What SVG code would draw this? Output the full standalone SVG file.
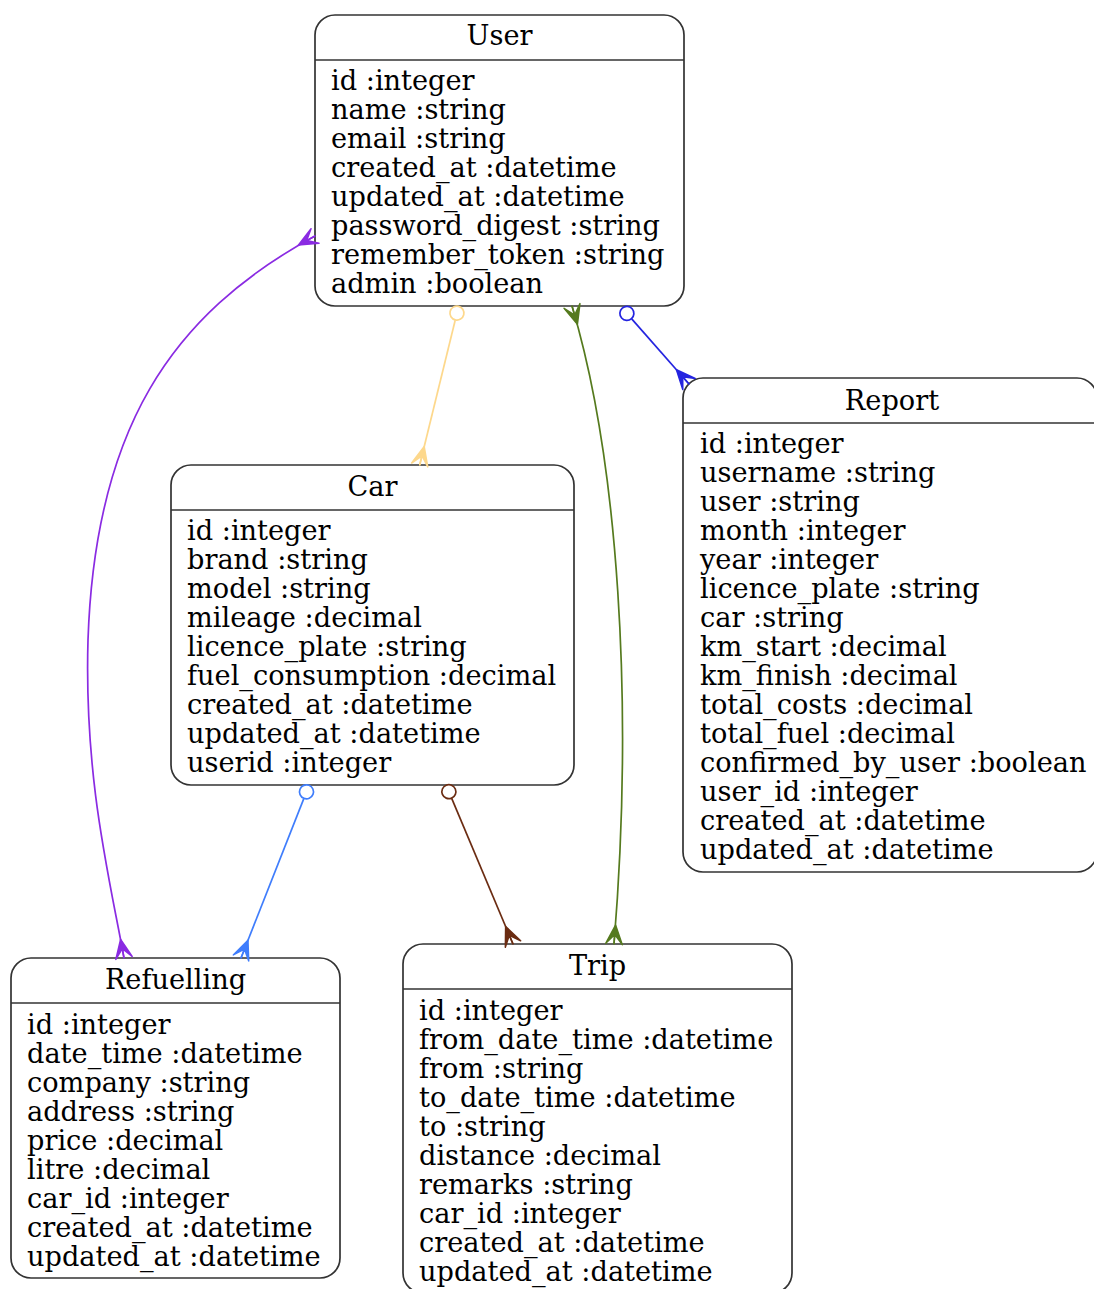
<svg xmlns="http://www.w3.org/2000/svg" width="1094" height="1289" viewBox="0 0 1094 1289">
<style>
  .box{fill:#fff;stroke:#333;stroke-width:1.7}
  .sep{stroke:#333;stroke-width:1.7}
  .t{font-family:"DejaVu Serif","Liberation Serif",serif;font-size:27.2px;fill:#000}
  .title{text-anchor:middle}
  .e{fill:none;stroke-width:1.7}
</style>
<defs>
  <marker id="crow-purple" viewBox="-1 -10 22 20" refX="19" refY="0" markerWidth="22" markerHeight="20" markerUnits="userSpaceOnUse" orient="auto-start-reverse"><path d="M0,0 L19,-8.3 L9.5,0 L19,0 L9.5,0 L19,8.3 Z" fill="#8a2be2" stroke="#8a2be2" stroke-width="1.5" stroke-linejoin="round"/></marker>
  <marker id="crow-yellow" viewBox="-1 -10 22 20" refX="19" refY="0" markerWidth="22" markerHeight="20" markerUnits="userSpaceOnUse" orient="auto-start-reverse"><path d="M0,0 L19,-8.3 L9.5,0 L19,0 L9.5,0 L19,8.3 Z" fill="#fdd88c" stroke="#fdd88c" stroke-width="1.5" stroke-linejoin="round"/></marker>
  <marker id="crow-green" viewBox="-1 -10 22 20" refX="19" refY="0" markerWidth="22" markerHeight="20" markerUnits="userSpaceOnUse" orient="auto-start-reverse"><path d="M0,0 L19,-8.3 L9.5,0 L19,0 L9.5,0 L19,8.3 Z" fill="#557a1e" stroke="#557a1e" stroke-width="1.5" stroke-linejoin="round"/></marker>
  <marker id="crow-blue" viewBox="-1 -10 22 20" refX="19" refY="0" markerWidth="22" markerHeight="20" markerUnits="userSpaceOnUse" orient="auto-start-reverse"><path d="M0,0 L19,-8.3 L9.5,0 L19,0 L9.5,0 L19,8.3 Z" fill="#2424e0" stroke="#2424e0" stroke-width="1.5" stroke-linejoin="round"/></marker>
  <marker id="crow-lblue" viewBox="-1 -10 22 20" refX="19" refY="0" markerWidth="22" markerHeight="20" markerUnits="userSpaceOnUse" orient="auto-start-reverse"><path d="M0,0 L19,-8.3 L9.5,0 L19,0 L9.5,0 L19,8.3 Z" fill="#3f7dfc" stroke="#3f7dfc" stroke-width="1.5" stroke-linejoin="round"/></marker>
  <marker id="crow-brown" viewBox="-1 -10 22 20" refX="19" refY="0" markerWidth="22" markerHeight="20" markerUnits="userSpaceOnUse" orient="auto-start-reverse"><path d="M0,0 L19,-8.3 L9.5,0 L19,0 L9.5,0 L19,8.3 Z" fill="#6b2c12" stroke="#6b2c12" stroke-width="1.5" stroke-linejoin="round"/></marker>
  <marker id="odot-yellow" viewBox="-1 -9 18 18" refX="0" refY="0" markerWidth="18" markerHeight="18" markerUnits="userSpaceOnUse" orient="auto-start-reverse"><circle cx="7.3" cy="0" r="7" fill="#fff" stroke="#fdd88c" stroke-width="1.7"/></marker>
  <marker id="odot-blue" viewBox="-1 -9 18 18" refX="0" refY="0" markerWidth="18" markerHeight="18" markerUnits="userSpaceOnUse" orient="auto-start-reverse"><circle cx="7.3" cy="0" r="7" fill="#fff" stroke="#2424e0" stroke-width="1.7"/></marker>
  <marker id="odot-lblue" viewBox="-1 -9 18 18" refX="0" refY="0" markerWidth="18" markerHeight="18" markerUnits="userSpaceOnUse" orient="auto-start-reverse"><circle cx="7.3" cy="0" r="7" fill="#fff" stroke="#3f7dfc" stroke-width="1.7"/></marker>
  <marker id="odot-brown" viewBox="-1 -9 18 18" refX="0" refY="0" markerWidth="18" markerHeight="18" markerUnits="userSpaceOnUse" orient="auto-start-reverse"><circle cx="7.3" cy="0" r="7" fill="#fff" stroke="#6b2c12" stroke-width="1.7"/></marker>
</defs>

<g id="node-User">
  <rect class="box" x="315" y="15" width="369" height="291" rx="20"/>
  <line class="sep" x1="315" y1="60" x2="684" y2="60"/>
  <text class="t title" x="499.5" y="44.5">User</text>
  <text class="t" x="331" y="89.5">id :integer</text>
  <text class="t" x="331" y="118.5">name :string</text>
  <text class="t" x="331" y="147.5">email :string</text>
  <text class="t" x="331" y="176.5">created_at :datetime</text>
  <text class="t" x="331" y="205.5">updated_at :datetime</text>
  <text class="t" x="331" y="234.5">password_digest :string</text>
  <text class="t" x="331" y="263.5">remember_token :string</text>
  <text class="t" x="331" y="292.5">admin :boolean</text>
</g>

<g id="node-Car">
  <rect class="box" x="171" y="465" width="403" height="320" rx="20"/>
  <line class="sep" x1="171" y1="510" x2="574" y2="510"/>
  <text class="t title" x="372.5" y="495.5">Car</text>
  <text class="t" x="187" y="539.5">id :integer</text>
  <text class="t" x="187" y="568.5">brand :string</text>
  <text class="t" x="187" y="597.5">model :string</text>
  <text class="t" x="187" y="626.5">mileage :decimal</text>
  <text class="t" x="187" y="655.5">licence_plate :string</text>
  <text class="t" x="187" y="684.5">fuel_consumption :decimal</text>
  <text class="t" x="187" y="713.5">created_at :datetime</text>
  <text class="t" x="187" y="742.5">updated_at :datetime</text>
  <text class="t" x="187" y="771.5">userid :integer</text>
</g>

<g id="node-Report">
  <rect class="box" x="683" y="378" width="414" height="494" rx="20"/>
  <line class="sep" x1="683" y1="423" x2="1097" y2="423"/>
  <text class="t title" x="892" y="409.5">Report</text>
  <text class="t" x="700" y="452.5">id :integer</text>
  <text class="t" x="700" y="481.5">username :string</text>
  <text class="t" x="700" y="510.5">user :string</text>
  <text class="t" x="700" y="539.5">month :integer</text>
  <text class="t" x="700" y="568.5">year :integer</text>
  <text class="t" x="700" y="597.5">licence_plate :string</text>
  <text class="t" x="700" y="626.5">car :string</text>
  <text class="t" x="700" y="655.5">km_start :decimal</text>
  <text class="t" x="700" y="684.5">km_finish :decimal</text>
  <text class="t" x="700" y="713.5">total_costs :decimal</text>
  <text class="t" x="700" y="742.5">total_fuel :decimal</text>
  <text class="t" x="700" y="771.5">confirmed_by_user :boolean</text>
  <text class="t" x="700" y="800.5">user_id :integer</text>
  <text class="t" x="700" y="829.5">created_at :datetime</text>
  <text class="t" x="700" y="858.5">updated_at :datetime</text>
</g>

<g id="node-Refuelling">
  <rect class="box" x="11" y="958" width="329" height="320" rx="20"/>
  <line class="sep" x1="11" y1="1003" x2="340" y2="1003"/>
  <text class="t title" x="175.5" y="988.5">Refuelling</text>
  <text class="t" x="27" y="1033.5">id :integer</text>
  <text class="t" x="27" y="1062.5">date_time :datetime</text>
  <text class="t" x="27" y="1091.5">company :string</text>
  <text class="t" x="27" y="1120.5">address :string</text>
  <text class="t" x="27" y="1149.5">price :decimal</text>
  <text class="t" x="27" y="1178.5">litre :decimal</text>
  <text class="t" x="27" y="1207.5">car_id :integer</text>
  <text class="t" x="27" y="1236.5">created_at :datetime</text>
  <text class="t" x="27" y="1265.5">updated_at :datetime</text>
</g>

<g id="node-Trip">
  <rect class="box" x="403" y="944" width="389" height="349" rx="20"/>
  <line class="sep" x1="403" y1="989" x2="792" y2="989"/>
  <text class="t title" x="597.5" y="974.5">Trip</text>
  <text class="t" x="419" y="1019.5">id :integer</text>
  <text class="t" x="419" y="1048.5">from_date_time :datetime</text>
  <text class="t" x="419" y="1077.5">from :string</text>
  <text class="t" x="419" y="1106.5">to_date_time :datetime</text>
  <text class="t" x="419" y="1135.5">to :string</text>
  <text class="t" x="419" y="1164.5">distance :decimal</text>
  <text class="t" x="419" y="1193.5">remarks :string</text>
  <text class="t" x="419" y="1222.5">car_id :integer</text>
  <text class="t" x="419" y="1251.5">created_at :datetime</text>
  <text class="t" x="419" y="1280.5">updated_at :datetime</text>
</g>

<g id="connectors">
  <path class="e" stroke="#8a2be2" d="M315,236 C170,315 95,430 88,640 C84,780 110,880 124,958" marker-start="url(#crow-purple)" marker-end="url(#crow-purple)"/>
  <path class="e" stroke="#fdd88c" d="M455.2,320.2 L419.7,465" marker-start="url(#odot-yellow)" marker-end="url(#crow-yellow)"/>
  <path class="e" stroke="#557a1e" d="M572,306 C618,460 634,700 614,944" marker-start="url(#crow-green)" marker-end="url(#crow-green)"/>
  <path class="e" stroke="#2424e0" d="M631.7,318.9 L689,384" marker-start="url(#odot-blue)" marker-end="url(#crow-blue)"/>
  <path class="e" stroke="#3f7dfc" d="M303.8,798.6 L241,958" marker-start="url(#odot-lblue)" marker-end="url(#crow-lblue)"/>
  <path class="e" stroke="#6b2c12" d="M451.7,798.4 L513,944" marker-start="url(#odot-brown)" marker-end="url(#crow-brown)"/>
</g>
</svg>
